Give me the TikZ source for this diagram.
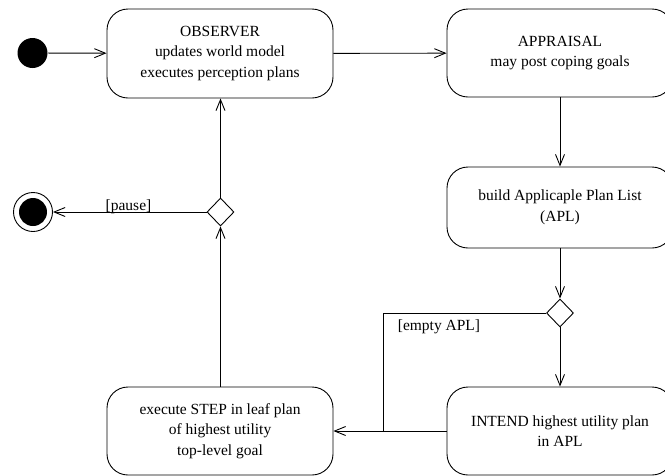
\documentclass[tikz,border=0pt]{standalone}
\usepackage{fontspec}
\setmainfont{Liberation Serif}
\usetikzlibrary{shapes.geometric,arrows.meta}
\begin{document}
\begin{tikzpicture}[x=1pt,y=-1pt,
  line width=0.9pt,
  every node/.style={font=\fontsize{15.5}{20.5}\selectfont},
  state/.style={draw,rectangle,rounded corners=21pt,minimum width=226pt,align=center,inner sep=0pt},
  decision/.style={draw,diamond,minimum width=27pt,minimum height=28pt,inner sep=0pt},
  flow/.style={-{Straight Barb[length=11pt,width=9pt,line width=0.9pt]}},
  guard/.style={anchor=base,inner sep=0pt}]
\useasboundingbox (0,0) rectangle (665,475);
\clip (0,0) rectangle (665,475);
% start and final
\node[circle,fill=black,minimum size=30pt,inner sep=0pt] (start) at (32.5,53) {};
\node[circle,draw,minimum size=39pt,inner sep=0pt] (final) at (33,212) {};
\node[circle,fill=black,minimum size=28pt,inner sep=0pt] (finalin) at (33,212) {};
% states
\node[state,minimum height=89pt] (obs) at (220,53.5) {OBSERVER\\updates world model\\executes perception plans};
\node[state,minimum height=88pt] (app) at (560,53) {APPRAISAL\\may post coping goals};
\node[state,minimum height=81pt] (apl) at (560,207.5) {build Applicaple Plan List\\(APL)};
\node[state,minimum height=88pt] (int) at (560,431) {INTEND highest utility plan\\in APL};
\node[state,minimum height=88pt] (step) at (220,431) {execute STEP in leaf plan\\of highest utility\\top-level goal};
% decisions
\node[decision] (d1) at (220.5,212) {};
\node[decision] (d2) at (560,313) {};
\coordinate (j) at (383,431);
% flows
\draw[flow] (start) -- (obs);
\draw[flow] (obs) -- (app);
\draw[flow] (app) -- (apl);
\draw[flow] (apl) -- (d2);
\draw[flow] (d2) -- (int);
\draw (d2.west) -| (j);
\draw (int.west) -- (j);
\draw[flow] (j) -- (step.east);
\draw[flow] (step.north -| d1) -- (d1);
\draw[flow] (d1) -- (obs.south -| d1);
\draw[flow] (d1) -- (final);
% guards
\node[guard] at (128.5,210) {[pause]};
\node[guard] at (439,330) {[empty APL]};
\end{tikzpicture}
\end{document}
